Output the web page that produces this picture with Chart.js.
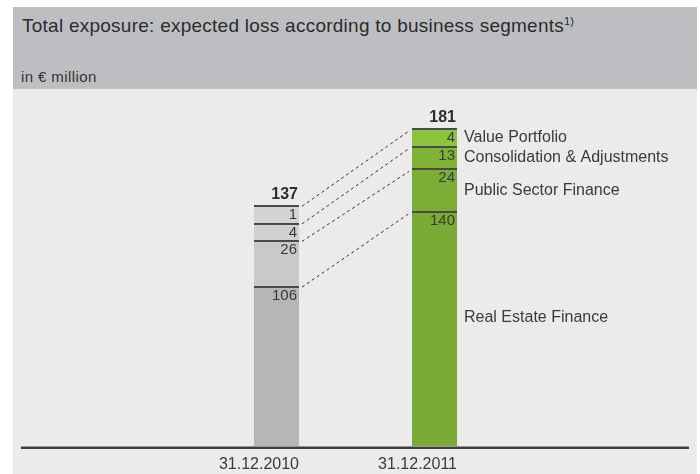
<!DOCTYPE html>
<html>
<head>
<meta charset="utf-8">
<script src="https://cdn.jsdelivr.net/npm/chart.js@4.4.1/dist/chart.umd.min.js"></script>
<style>
  html, body { margin: 0; padding: 0; background: #ffffff; width: 700px; height: 474px; overflow: hidden; font-family: "Liberation Sans", Arial, sans-serif; }
  #header { position: absolute; left: 13px; top: 7px; width: 684px; height: 82px; background: #bdbec1; }
  #panel { position: absolute; left: 13px; top: 89px; width: 684px; height: 385px; background: #eaebea; }
  #title { position: absolute; left: 9px; top: 8px; font-size: 19px; letter-spacing: 0.25px; color: #2b2b2b; white-space: nowrap; }
  #title sup { font-size: 11px; vertical-align: 7px; letter-spacing: 0; }
  #unit { position: absolute; left: 8px; top: 61px; font-size: 15px; letter-spacing: 0.4px; color: #333333; white-space: nowrap; }
  #wrap { position: absolute; left: 0; top: 0; width: 700px; height: 474px; }
</style>
</head>
<body>
<div id="header">
  <div id="title">Total exposure: expected loss according to business segments<sup>1)</sup></div>
  <div id="unit">in € million</div>
</div>
<div id="panel"></div>
<div id="wrap"><canvas id="c" width="700" height="474"></canvas></div>
<script>
// ---- data ----
const categories = ["31.12.2010", "31.12.2011"];
const segments = ["Real Estate Finance", "Public Sector Finance", "Consolidation & Adjustments", "Value Portfolio"];
const realEstate = [106, 140];
const publicSector = [26, 24];
const consolidation = [4, 13];
const valuePortfolio = [1, 4];
const totals = [137, 181];

const seriesValues = [realEstate, publicSector, consolidation, valuePortfolio];
const grayColors = ["#b5b6b8", "#c8c9cb", "#d0d1d3", "#d3d4d6"];
const greenColors = ["#7aab34", "#7cae35", "#80b437", "#8cc43e"];

// Like the original graphic: small upper segments get a minimum visible height,
// the bottom segment absorbs the difference so the bar total stays exact.
const MIN_VISIBLE = 10;
function displayRanges() {
  const out = seriesValues.map(() => []);
  categories.forEach((_, j) => {
    let top = totals[j];
    for (let i = seriesValues.length - 1; i >= 1; i--) {
      const h = Math.max(seriesValues[i][j], MIN_VISIBLE);
      out[i][j] = [top - h, top];
      top -= h;
    }
    out[0][j] = [0, top];
  });
  return out;
}
const ranges = displayRanges();

const datasets = seriesValues.map((vals, i) => ({
  label: segments[i],
  data: ranges[i],
  backgroundColor: [grayColors[i], greenColors[i]],
  borderWidth: 0,
  barPercentage: 0.57,
  categoryPercentage: 0.5,
  grouped: false
}));

const FONT = '"Liberation Sans", Arial, sans-serif';

const annotate = {
  id: 'annotate',
  afterDatasetsDraw(chart) {
    const ctx = chart.ctx;
    const n = chart.data.datasets.length;
    const yScale = chart.scales.y;
    ctx.save();
    // baseline
    const by = yScale.getPixelForValue(0);
    ctx.fillStyle = '#9a9a9a';
    ctx.fillRect(21, by - 1, 668, 1);
    ctx.fillStyle = '#3c3c3c';
    ctx.fillRect(21, by, 668, 2);

    // separators and value labels
    for (let d = 0; d < n; d++) {
      const meta = chart.getDatasetMeta(d);
      meta.data.forEach((bar, j) => {
        const top = Math.min(bar.y, bar.base);
        const right = bar.x + bar.width / 2;
        const left = bar.x - bar.width / 2;
        ctx.fillStyle = '#4a4a4a';
        ctx.fillRect(left, Math.round(top) - 1, bar.width, 2);
        ctx.fillStyle = '#3a3a3a';
        ctx.font = '15px ' + FONT;
        ctx.textAlign = 'right';
        ctx.textBaseline = 'alphabetic';
        ctx.fillText(String(seriesValues[d][j]), right - 2, top + 13);
      });
    }
    // dashed connectors
    ctx.strokeStyle = '#333333';
    ctx.lineWidth = 1;
    ctx.setLineDash([3, 3]);
    for (let d = 0; d < n; d++) {
      const meta = chart.getDatasetMeta(d);
      const a = meta.data[0], b = meta.data[1];
      const ay = Math.min(a.y, a.base), byy = Math.min(b.y, b.base);
      ctx.beginPath();
      ctx.moveTo(a.x + a.width / 2 + 3, ay);
      ctx.lineTo(b.x - b.width / 2 - 3, byy + 2);
      ctx.stroke();
    }
    ctx.setLineDash([]);

    // totals
    const topMeta = chart.getDatasetMeta(n - 1);
    topMeta.data.forEach((bar, j) => {
      const top = Math.min(bar.y, bar.base);
      ctx.fillStyle = '#2e2e2e';
      ctx.font = 'bold 16px ' + FONT;
      ctx.textAlign = 'right';
      ctx.textBaseline = 'alphabetic';
      ctx.fillText(String(totals[j]), bar.x + bar.width / 2 - 1, top - 7);
    });

    // category labels
    const m0 = chart.getDatasetMeta(0);
    m0.data.forEach((bar, j) => {
      ctx.fillStyle = '#3a3a3a';
      ctx.font = '16px ' + FONT;
      ctx.textAlign = 'right';
      ctx.textBaseline = 'alphabetic';
      ctx.fillText(categories[j], bar.x + bar.width / 2, by + 22);
    });

    // segment names beside the last bar
    let prev = -Infinity;
    for (let d = n - 1; d >= 0; d--) {
      const bar = chart.getDatasetMeta(d).data[1];
      const top = Math.min(bar.y, bar.base), bottom = Math.max(bar.y, bar.base);
      let c = Math.max(d === 0 ? top + (bottom - top) * 0.45 : (top + bottom) / 2, top + 7, prev + 19);
      prev = c;
      ctx.fillStyle = '#3a3a3a';
      ctx.font = '16px ' + FONT;
      ctx.textAlign = 'left';
      ctx.textBaseline = 'middle';
      ctx.fillText(segments[d], bar.x + bar.width / 2 + 7, c);
    }
    ctx.restore();
  }
};

new Chart(document.getElementById('c'), {
  type: 'bar',
  data: { labels: categories, datasets },
  options: {
    responsive: false,
    animation: false,
    layout: { padding: { left: 197.5, right: 186.5, top: 95.6, bottom: 27 } },
    plugins: { legend: { display: false }, tooltip: { enabled: false } },
    scales: {
      x: { display: false },
      y: { display: false, min: 0, max: 200 }
    }
  },
  plugins: [annotate]
});
</script>
</body>
</html>
